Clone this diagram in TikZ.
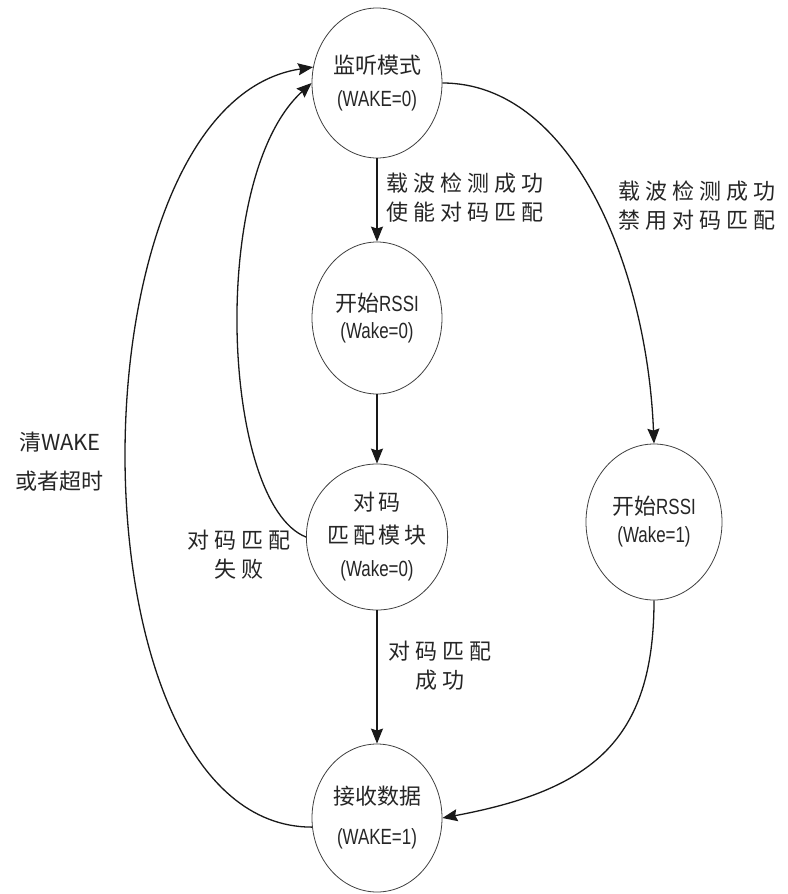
\documentclass[tikz,border=0pt]{standalone}
\usepackage{fontspec}
\newfontfamily\cjk{Noto Sans CJK SC}
\newfontfamily\cjksp[LetterSpace=23]{Noto Sans CJK SC}
\newfontfamily\cjkspc[LetterSpace=18]{Noto Sans CJK SC}
\newfontfamily\narrow[FakeStretch=0.77]{Liberation Sans}
\usetikzlibrary{shapes.geometric,arrows.meta}
\begin{document}
\begin{tikzpicture}[x=1pt,y=-1pt,
  state/.style={draw=black!75, line width=0.8pt, ellipse, minimum width=130pt,
    minimum height=150pt, inner sep=0pt, align=center,
    font=\cjk\fontsize{22}{33}\selectfont, text=black!85},
  conn/.style={line width=1.3pt, draw=black!90,
    -{Stealth[length=15pt,width=12pt,inset=2pt]}},
  lbl/.style={font=\cjksp\fontsize{22}{29}\selectfont, align=center,
    inner sep=0pt, text=black!85},
  sidelbl/.style={font=\cjk\fontsize{22}{39}\selectfont, align=center,
    inner sep=0pt, text=black!85}
]
\useasboundingbox[fill=white] (0,0) rectangle (787,894);
% states
\node[state] (A) at (377,83) {监听模式\\{\narrow (WAKE=0)}};
\node[state, minimum height=152pt] (B) at (377,318)
  {开始{\narrow RSSI}\\[-6pt]{\narrow (Wake=0)}};
\node[state, minimum height=146pt] (C) at (377,537)
  {{\cjkspc 对码}\\{\cjkspc 匹配模块}\\{\narrow (Wake=0)}};
\node[state, minimum width=136pt, minimum height=156pt] (D) at (654,522)
  {开始{\narrow RSSI}\\[-5pt]{\narrow (Wake=1)}};
\node[state, minimum height=148pt] (E) at (377,818)
  {接收数据\\[7pt]{\narrow (WAKE=1)}};
% labels
\node[lbl, anchor=west] (L1) at (386,198) {载波检测成功\\使能对码匹配};
\node[lbl, anchor=west] (L2) at (618,206) {载波检测成功\\禁用对码匹配};
\node[sidelbl] (L3) at (60,462) {清WAKE\\或者超时};
\node[lbl] (L4) at (239,555) {对码匹配\\失败};
\node[lbl] (L5) at (440,666) {对码匹配\\成功};
% connectors
\draw[conn] (A.south) -- (B.north);
\draw[conn] (B.south) -- (C.north);
\draw[conn] (C.south) -- (E.north);
\draw[conn] (A.east) .. controls +(130,0) and +(-7,-176) .. (D.north);
\draw[conn] (D.south) .. controls +(0,140) and +(150,-28) .. (E.east);
\draw[conn] (E.188) .. controls +(-248,0) and +(-248,37) .. (A.166);
\draw[conn] (C.west) .. controls +(-84,-33) and +(-104,94) .. (A.west);
\end{tikzpicture}
\end{document}
